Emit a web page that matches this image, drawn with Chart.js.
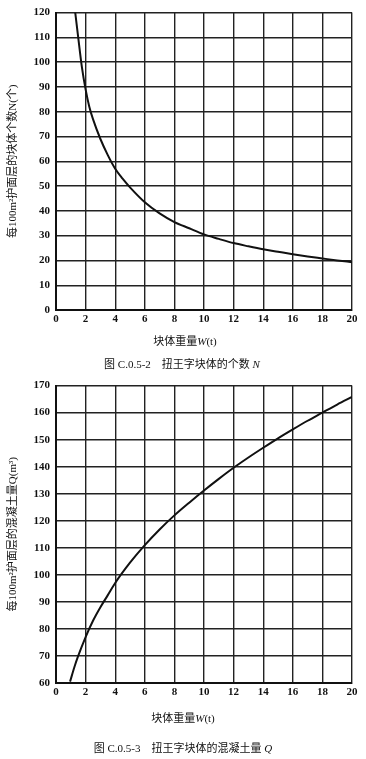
<!DOCTYPE html>
<html>
<head>
<meta charset="utf-8">
<script src="https://cdn.jsdelivr.net/npm/chart.js@4"></script>
<style>
  body { margin: 0; background: #fff; width: 366px; height: 759px; position: relative; overflow: hidden; }
  .box { position: absolute; left: 0; width: 366px; height: 350px; }
  .txt { position: absolute; width: 200px; text-align: center; font: 11px/14px "Liberation Serif", "Noto Sans CJK SC", serif; color: #111; white-space: nowrap; }
  .txt i { font-style: italic; }
</style>
</head>
<body>
<div class="box" style="top:0"><canvas id="chartN"></canvas></div>
<div class="txt" id="xTitleN" style="top:334px; left:85px"></div>
<div class="txt" style="top:357px; left:82px">图 C.0.5-2&nbsp;&nbsp;&nbsp;&nbsp;扭王字块体的个数 <i>N</i></div>
<div class="box" style="top:373px"><canvas id="chartQ"></canvas></div>
<div class="txt" id="xTitleQ" style="top:711px; left:83px"></div>
<div class="txt" style="top:741px; left:83px">图 C.0.5-3&nbsp;&nbsp;&nbsp;&nbsp;扭王字块体的混凝土量 <i>Q</i></div>
<script>
// block weight W (t) and values
let weightsN = [1.3, 1.5, 1.75, 2, 2.25, 2.5, 3, 3.5, 4, 4.5, 5, 6, 7, 8, 9, 10, 11, 12, 13, 14, 15, 16, 17, 18, 19, 20];
let countN = [120, 110, 98, 89, 82, 77, 69, 62.5, 57, 53, 49.5, 43.5, 39, 35.5, 33, 30.5, 28.7, 27, 25.7, 24.5, 23.5, 22.5, 21.6, 20.8, 20, 19.3];

let weightsQ = [0.95, 1.25, 1.5, 2, 2.5, 3, 3.5, 4, 5, 6, 7, 8, 9, 10, 11, 12, 13, 14, 15, 16, 17, 18, 19, 20];
let concreteQ = [60.5, 66, 70, 77, 83, 88, 92.5, 97, 104.5, 111, 116.8, 122, 126.7, 131.2, 135.5, 139.6, 143.4, 147, 150.5, 153.8, 157, 160, 163, 165.8];

let yTitleN = "每100m²护面层的块体个数N(个)";
let yTitleQ = "每100m²护面层的混凝土量Q(m³)";

const SERIF = "'Liberation Serif', 'Noto Sans CJK SC', serif";
const INK = "#111";

// x axis title with italic W
["xTitleN", "xTitleQ"].forEach((id) => {
  document.getElementById(id).innerHTML = "块体重量<i>W</i>(t)";
});

function toPoints(xs, ys) {
  return xs.map((x, i) => ({ x: x, y: ys[i] }));
}

function makeChart(id, points, yMin, yMax, yTitle) {
  return new Chart(document.getElementById(id), {
    type: "scatter",
    data: {
      datasets: [
        {
          data: points,
          showLine: true,
          borderColor: INK,
          borderWidth: 2,
          pointRadius: 0,
          cubicInterpolationMode: "monotone",
        },
      ],
    },
    options: {
      responsive: true,
      maintainAspectRatio: false,
      animation: false,
      layout: { padding: { top: 10, right: 14, left: 7, bottom: 0 } },
      plugins: { legend: { display: false }, tooltip: { enabled: false } },
      scales: {
        x: {
          type: "linear",
          min: 0,
          max: 20,
          ticks: { stepSize: 2, color: INK, padding: 3, font: { family: SERIF, size: 11, weight: "bold" } },
          grid: { color: "#222", lineWidth: 1.4, drawTicks: false },
          border: { color: INK, width: 2 },
          afterFit: (scale) => { scale.height = 40; },
        },
        y: {
          min: yMin,
          max: yMax,
          ticks: { stepSize: 10, color: INK, padding: 6, font: { family: SERIF, size: 11, weight: "bold" } },
          grid: { color: "#222", lineWidth: 1.4, drawTicks: false },
          border: { color: INK, width: 2 },
          title: { display: true, text: yTitle, color: INK, padding: 0, font: { family: SERIF, size: 11 } },
          afterFit: (scale) => { scale.width = 49; },
        },
      },
    },
  });
}

makeChart("chartN", toPoints(weightsN, countN), 0, 120, yTitleN);
makeChart("chartQ", toPoints(weightsQ, concreteQ), 60, 170, yTitleQ);
</script>
</body>
</html>
